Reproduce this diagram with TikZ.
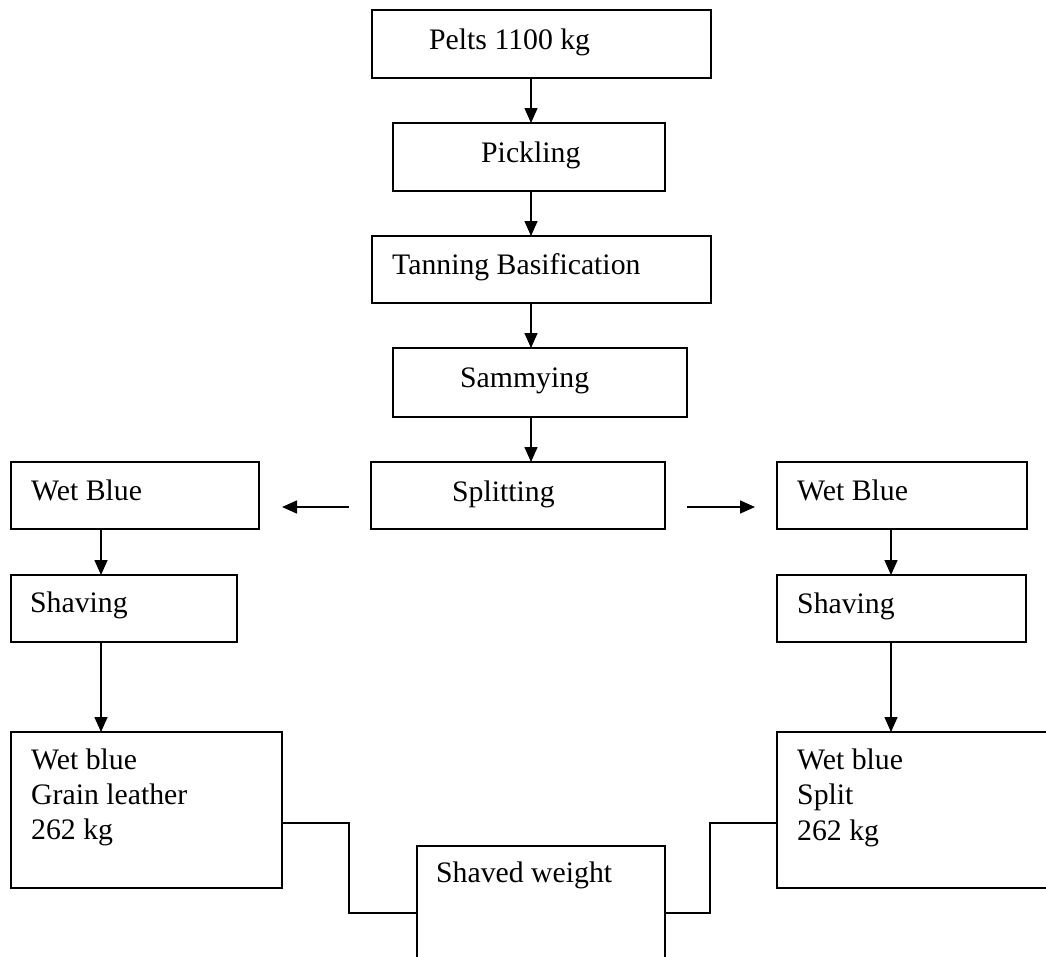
\documentclass[tikz,border=0pt]{standalone}
\usepackage{fontspec}
\setmainfont{Liberation Serif}
\usetikzlibrary{arrows.meta}
\begin{document}
\begin{tikzpicture}[x=1pt,y=-1pt,
  box/.style={draw=black,line width=1.5pt,inner sep=0pt,outer sep=0pt},
  txt/.style={inner sep=0pt,anchor=base west,font=\fontsize{29.75}{35}\selectfont},
  arr/.style={line width=1.5pt,-{Triangle[length=15pt,width=13pt]}},
  ln/.style={line width=1.5pt}]
\useasboundingbox (0,0) rectangle (1046,956);
\clip (0,0) rectangle (1046,956);
\fill[white] (0,0) rectangle (1046,956);
% boxes: centre = ((l+r)/2,(t+b)/2), size = (r-l, b-t)
\node[box,minimum width=339pt,minimum height=68pt] (pelts) at (541.5,44) {};
\node[box,minimum width=272pt,minimum height=68pt] (pick) at (529,157) {};
\node[box,minimum width=339pt,minimum height=67pt] (tan) at (541.5,269.5) {};
\node[box,minimum width=294pt,minimum height=69pt] (sam) at (540,382.5) {};
\node[box,minimum width=294pt,minimum height=67pt] (spl) at (518,495.5) {};
\node[box,minimum width=248pt,minimum height=67pt] (wbl) at (135,495.5) {};
\node[box,minimum width=226pt,minimum height=67pt] (shl) at (124,608.5) {};
\node[box,minimum width=271pt,minimum height=156pt] (gl) at (146.5,810) {};
\node[box,minimum width=250pt,minimum height=67pt] (wbr) at (902,495.5) {};
\node[box,minimum width=249pt,minimum height=67pt] (shr) at (901.5,608.5) {};
\node[box,minimum width=300pt,minimum height=156pt] (sr) at (927,810) {};
\node[box,minimum width=248pt,minimum height=140pt] (sw) at (541,916) {};
% texts
\node[txt] (tpelts) at (429,49) {Pelts 1100 kg};
\node[txt] (tpick) at (481,162) {Pickling};
\node[txt] (ttan) at (392,274) {Tanning Basification};
\node[txt] (tsam) at (460,387) {Sammying};
\node[txt] (tspl) at (452,501) {Splitting};
\node[txt] (twbl) at (31,500) {Wet Blue};
\node[txt] (tshl) at (30,612) {Shaving};
\node[txt] (tgl1) at (31,769) {Wet blue};
\node[txt] (tgl2) at (31,804) {Grain leather};
\node[txt] (tgl3) at (31,839) {262 kg};
\node[txt] (twbr) at (797,500) {Wet Blue};
\node[txt] (tshr) at (797,613) {Shaving};
\node[txt] (tsr1) at (797,769) {Wet blue};
\node[txt] (tsr2) at (797,804) {Split};
\node[txt] (tsr3) at (797,840) {262 kg};
\node[txt] (tsw) at (436,882) {Shaved weight};
% vertical arrows
\draw[arr] (pelts.south -| 531,0) -- (pick.north -| 531,0);
\draw[arr] (pick.south -| 531,0) -- (tan.north -| 531,0);
\draw[arr] (tan.south -| 531,0) -- (sam.north -| 531,0);
\draw[arr] (sam.south -| 531,0) -- (spl.north -| 531,0);
\draw[arr] (wbl.south -| 101,0) -- (shl.north -| 101,0);
\draw[arr] (shl.south -| 101,0) -- (gl.north -| 101,0);
\draw[arr] (wbr.south -| 891,0) -- (shr.north -| 891,0);
\draw[arr] (shr.south -| 891,0) -- (sr.north -| 891,0);
% splitting side arrows
\coordinate (la1) at (349,507);
\coordinate (la2) at (282,507);
\coordinate (ra1) at (687,507);
\coordinate (ra2) at (755,507);
\draw[arr] (la1) -- (la2);
\draw[arr] (ra1) -- (ra2);
% connectors to shaved weight
\draw[ln] (gl.east |- 0,823) -- (349,823) -- (349,913) -- (sw.west |- 0,913);
\draw[ln] (sw.east |- 0,913) -- (710,913) -- (710,823) -- (sr.west |- 0,823);
\end{tikzpicture}
\end{document}
